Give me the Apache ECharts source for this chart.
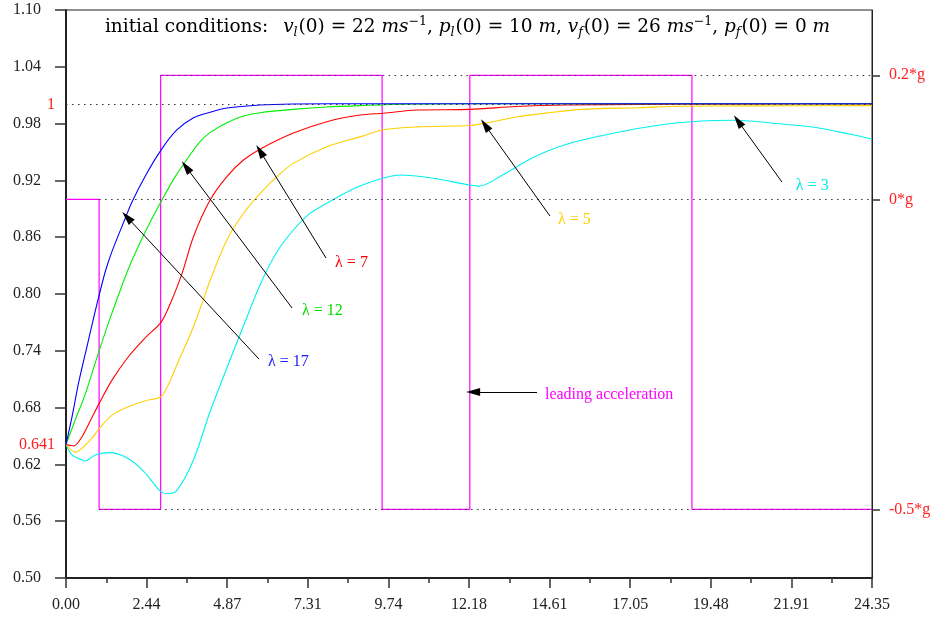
<!DOCTYPE html>
<html>
<head>
<meta charset="utf-8">
<script src="https://cdn.jsdelivr.net/npm/echarts@6/dist/echarts.min.js"></script>
<style>html,body{margin:0;padding:0;background:#fff}#c{width:935px;height:622px}</style>
</head>
<body>
<div id="c"></div>
<script>
// x tick labels
const xTickLabels = ['0.00','2.44','4.87','7.31','9.74','12.18','14.61','17.05','19.48','21.91','24.35'];
// lambda = 17 (blue)
const tBlue = [0, 0.18, 0.38, 0.63, 0.89, 1.01, 1.19, 1.39, 1.79, 1.99, 2.40, 2.87, 3.34, 3.84, 4.35, 4.86, 5.86, 6.86, 9.0, 12.0, 16.0, 20.0, 24.35];
const vBlue = [0.641, 0.670, 0.706, 0.744, 0.783, 0.800, 0.824, 0.845, 0.880, 0.897, 0.925, 0.952, 0.973, 0.986, 0.992, 0.9965, 0.9997, 1.0007, 1.001, 1.001, 1.001, 1.001, 1.001];
// lambda = 12 (green)
const tGreen = [0, 0.28, 0.58, 1.01, 1.39, 1.89, 2.40, 2.87, 3.30, 3.75, 4.05, 4.35, 4.86, 5.36, 5.86, 6.87, 7.88, 8.88, 10.2, 14.0, 20.0, 24.35];
const vGreen = [0.641, 0.667, 0.694, 0.741, 0.780, 0.827, 0.866, 0.8975, 0.924, 0.947, 0.961, 0.9705, 0.981, 0.988, 0.9915, 0.995, 0.9975, 0.999, 1.0005, 1.001, 1.001, 1.001];
// lambda = 7 (red)
const tRed = [0, 0.23, 0.48, 0.79, 1.01, 1.39, 1.89, 2.40, 2.87, 3.20, 3.51, 3.85, 4.35, 4.86, 5.36, 5.86, 6.87, 7.88, 8.88, 9.59, 10.6, 12.2, 13.6, 15.1, 17.3, 20.0, 24.35];
const vRed = [0.641, 0.6395, 0.649, 0.670, 0.685, 0.709, 0.734, 0.754, 0.770, 0.794, 0.822, 0.8605, 0.899, 0.924, 0.9415, 0.953, 0.970, 0.982, 0.989, 0.991, 0.9943, 0.995, 0.998, 0.9996, 1.0003, 1.0005, 1.0008];
// lambda = 5 (yellow)
const tYellow = [0, 0.28, 0.48, 0.79, 1.01, 1.39, 1.89, 2.40, 2.87, 3.10, 3.41, 3.81, 4.15, 4.35, 4.86, 5.36, 5.86, 6.37, 6.87, 7.88, 8.88, 9.59, 10.6, 12.2, 12.6, 13.6, 14.6, 15.6, 17.3, 18.6, 20.7, 24.35];
const vYellow = [0.641, 0.633, 0.637, 0.648, 0.658, 0.672, 0.681, 0.6873, 0.6915, 0.705, 0.730, 0.762, 0.794, 0.814, 0.857, 0.885, 0.906, 0.924, 0.938, 0.9555, 0.966, 0.9735, 0.9765, 0.978, 0.980, 0.987, 0.9915, 0.995, 0.9968, 0.9983, 0.9987, 0.999];
// lambda = 3 (cyan)
const tCyan = [0, 0.18, 0.48, 0.57, 0.89, 1.33, 1.83, 2.34, 2.84, 3.04, 3.34, 3.85, 4.35, 4.86, 5.36, 5.86, 6.37, 6.87, 7.37, 7.88, 8.38, 8.88, 9.59, 10.09, 11.10, 12.2, 12.5, 13.1, 14.1, 15.1, 16.6, 18.1, 19.2, 20.2, 21.7, 22.7, 23.7, 24.35];
const vCyan = [0.641, 0.630, 0.6246, 0.6235, 0.630, 0.6324, 0.627, 0.613, 0.592, 0.589, 0.592, 0.6246, 0.6754, 0.7218, 0.7662, 0.8095, 0.8444, 0.8676, 0.8852, 0.8958, 0.9056, 0.914, 0.9225, 0.9257, 0.9222, 0.9151, 0.914, 0.9239, 0.944, 0.958, 0.9704, 0.9793, 0.9828, 0.9835, 0.9793, 0.9757, 0.9687, 0.9637];
// leading acceleration (in g), piecewise constant from each switch time
const accTimes = [0, 1.0, 2.86, 9.55, 12.2, 18.91, 24.35];
const accLevels = [0, -0.5, 0.2, -0.5, 0.2, -0.5, -0.5];
// right axis marked levels
const gLevels = [-0.5, 0, 0.2];
// left axis red marks
const redMarks = [0.641, 1];

const FONT = 'Liberation Serif';
const pairs = (t, v) => t.map((x, i) => [x, v[i]]);

const chart = echarts.init(document.getElementById('c'), null, {renderer: 'canvas'});

const dotted = {color: '#333', width: 1.2, type: [1.5, 4.5]};
function arrow(t0, v0, t1, v1) {
  return [{coord: [t0, v0], symbol: 'none'}, {coord: [t1, v1], symbol: 'triangle', symbolSize: [8, 14]}];
}
function lbl(t, v, text, color) {
  return {coord: [t, v], label: {formatter: text, color: color}};
}

const baseLine = (name, t, v, color) => ({
  name, type: 'line', data: pairs(t, v), showSymbol: false, symbol: 'none',
  smooth: 0.3, lineStyle: {color, width: 1.1}, itemStyle: {color}, xAxisIndex: 0, yAxisIndex: 0, z: 3
});

const TF = 'DejaVu Serif';
const option = {
  animation: false,
  backgroundColor: '#fff',
  title: {
    left: 'center', top: 10,
    text: '{r|initial conditions:}   {i|v}{s|l}{r|(0) = 22 }{i|ms}{p|−1}{r|, }{i|p}{s|l}{r|(0) = 10 }{i|m}{r|, }{i|v}{s|f}{r|(0) = 26 }{i|ms}{p|−1}{r|, }{i|p}{s|f}{r|(0) = 0 }{i|m}',
    textStyle: {
      fontWeight: 'normal',
      rich: {
        r: {fontFamily: TF, fontWeight: 'normal', fontSize: 18.5, color: '#000', lineHeight: 24},
        i: {fontFamily: TF, fontWeight: 'normal', fontStyle: 'italic', fontSize: 18.5, color: '#000', lineHeight: 24},
        s: {fontFamily: TF, fontWeight: 'normal', fontStyle: 'italic', fontSize: 12.5, color: '#000', lineHeight: 24, verticalAlign: 'bottom', padding: [0, 1, 0, 0]},
        p: {fontFamily: TF, fontWeight: 'normal', fontSize: 12.5, color: '#000', lineHeight: 24, verticalAlign: 'top'}
      }
    }
  },
  grid: {left: 66, right: 63, top: 10, bottom: 44, show: true, borderColor: '#222', borderWidth: 1, outerBoundsMode: 'none'},
  xAxis: {
    type: 'value', min: 0, max: 24.35, interval: 2.435,
    axisLine: {show: true, onZero: false, lineStyle: {color: '#222', width: 2}},
    axisTick: {show: true, inside: false, length: 10, lineStyle: {color: '#333', width: 1.5}},
    minorTick: {show: true, splitNumber: 2, length: 5, lineStyle: {color: '#333', width: 1.5}},
    splitLine: {show: false},
    axisLabel: {margin: 19, color: '#222', fontFamily: FONT, fontSize: 16, formatter: (v, i) => xTickLabels[i]}
  },
  yAxis: [
    {
      type: 'value', position: 'left', min: 0.5, max: 1.1, interval: 0.06,
      axisLine: {show: true, lineStyle: {color: '#222', width: 2}},
      axisTick: {show: true, inside: false, length: 11, lineStyle: {color: '#333', width: 1.5}},
      splitLine: {show: false},
      axisLabel: {margin: 25, color: '#222', fontFamily: FONT, fontSize: 16, formatter: v => v.toFixed(2)}
    },
    {
      type: 'value', position: 'left', min: 0.5, max: 1.1,
      axisLine: {show: false}, axisTick: {show: false}, splitLine: {show: false},
      axisLabel: {customValues: redMarks, margin: 11, color: '#ff2020', fontFamily: FONT, fontSize: 16, formatter: v => String(v)}
    },
    {
      type: 'value', position: 'right', min: -0.6107, max: 0.3053,
      axisLine: {show: true, lineStyle: {color: '#222', width: 1}},
      axisTick: {show: true, inside: false, length: 8, customValues: gLevels, lineStyle: {color: '#333', width: 1.5}},
      splitLine: {show: false},
      axisLabel: {customValues: gLevels, margin: 17, color: '#ff2020', fontFamily: FONT, fontSize: 16, formatter: v => v + '*g'}
    }
  ],
  series: [
    {
      name: 'acc', type: 'line', data: pairs(accTimes, accLevels), step: 'end', showSymbol: false, symbol: 'none',
      xAxisIndex: 0, yAxisIndex: 2, lineStyle: {color: '#ff00ff', width: 1.2}, itemStyle: {color: '#ff00ff'}, z: 2,
      markLine: {
        silent: true, animation: false, symbol: 'none', label: {show: false}, lineStyle: dotted,
        data: [
          [{coord: [2.86, 0.2]}, {coord: [24.35, 0.2]}],
          [{coord: [1.0, 0]}, {coord: [24.35, 0]}],
          [{coord: [1.0, -0.5]}, {coord: [24.35, -0.5]}]
        ]
      }
    },
    baseLine('l3', tCyan, vCyan, '#00f0f0'),
    baseLine('l5', tYellow, vYellow, '#ffd000'),
    Object.assign(baseLine('l7', tRed, vRed, '#ff0000'), {
      markPoint: {
        silent: true, symbol: 'circle', symbolSize: 0,
        label: {show: true, position: 'right', distance: 0, fontFamily: FONT, fontSize: 16},
        data: [
          lbl(6.10, 0.728, 'λ = 17', '#2020ff'),
          lbl(7.13, 0.782, 'λ = 12', '#00e000'),
          lbl(8.13, 0.833, 'λ = 7', '#ff0000'),
          lbl(14.86, 0.878, 'λ = 5', '#ffd000'),
          lbl(22.05, 0.914, 'λ = 3', '#00e8e8'),
          lbl(14.47, 0.693, 'leading acceleration', '#ff00ff')
        ]
      }
    }),
    Object.assign(baseLine('l12', tGreen, vGreen, '#00ee00'), {
      markLine: {
        silent: true, animation: false, label: {show: false},
        lineStyle: {color: '#000', width: 1, type: 'solid'},
        data: [
          arrow(5.83, 0.7313, 1.843, 0.8813),
          arrow(6.83, 0.7852, 3.625, 0.9342),
          arrow(7.855, 0.838, 5.861, 0.951),
          arrow(14.62, 0.8824, 12.66, 0.9785),
          arrow(21.63, 0.9183, 20.30, 0.9827),
          arrow(14.23, 0.6965, 12.30, 0.6965)
        ]
      }
    }),
    Object.assign(baseLine('l17', tBlue, vBlue, '#0000ff'), {
      markLine: {
        silent: true, animation: false, symbol: 'none', label: {show: false}, lineStyle: dotted,
        data: [[{coord: [0, 1.0]}, {coord: [24.35, 1.0]}]]
      }
    })
  ]
};
chart.setOption(option);
</script>
</body>
</html>
